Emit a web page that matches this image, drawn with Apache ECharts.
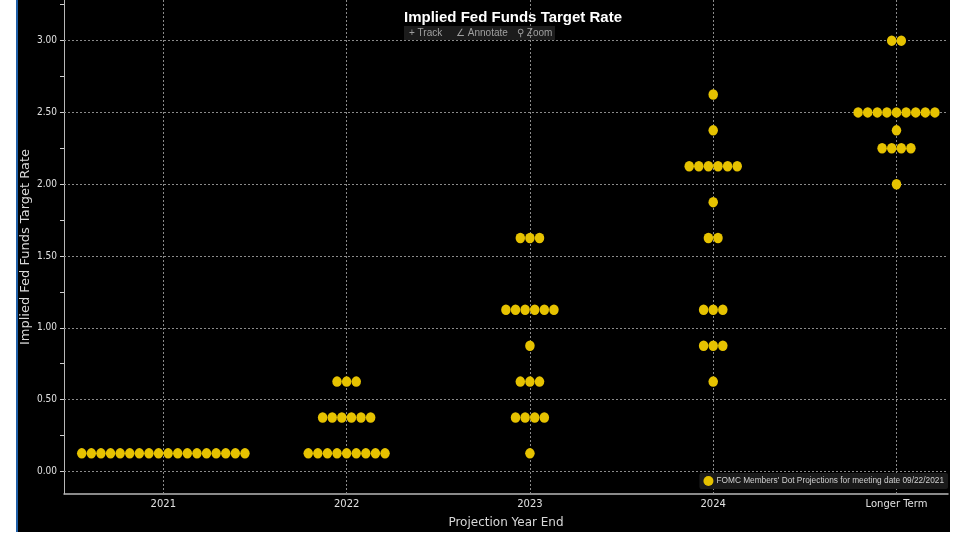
<!DOCTYPE html>
<html>
<head>
<meta charset="utf-8">
<script src="https://cdn.jsdelivr.net/npm/echarts@6/dist/echarts.min.js"></script>
<style>
  html, body { margin: 0; padding: 0; background: #ffffff; }
  #bg { position: absolute; left: 16px; top: 0; width: 934px; height: 532px; background: #000000; border-left: 2px solid #1f5fa8; box-sizing: border-box; }
  #chart { position: absolute; left: 0; top: 0; width: 955px; height: 534px; }
</style>
</head>
<body>
<div id="bg"></div>
<div id="chart"></div>
<script>
// ---- data ----
const categories = ['2021', '2022', '2023', '2024', 'Longer Term'];
// [rate, number of participants]
const dots2021 = [[0.125, 18]];
const dots2022 = [[0.125, 9], [0.375, 6], [0.625, 3]];
const dots2023 = [[0.125, 1], [0.375, 4], [0.625, 3], [0.875, 1], [1.125, 6], [1.625, 3]];
const dots2024 = [[0.625, 1], [0.875, 3], [1.125, 3], [1.625, 2], [1.875, 1], [2.125, 6], [2.375, 1], [2.625, 1]];
const dotsLonger = [[2.0, 1], [2.25, 4], [2.375, 1], [2.5, 9], [3.0, 2]];
const yTickValues = [0, 0.5, 1, 1.5, 2, 2.5, 3];
const yMinorTickValues = [0, 0.25, 0.5, 0.75, 1, 1.25, 1.5, 1.75, 2, 2.25, 2.5, 2.75, 3, 3.25];
const seriesName = "FOMC Members' Dot Projections for meeting date 09/22/2021";

// ---- build ----
const allDots = [dots2021, dots2022, dots2023, dots2024, dotsLonger];
const DOT_GAP = 9.6;
const data = [];
allDots.forEach((rows, ci) => {
  rows.forEach(([rate, count]) => {
    for (let i = 0; i < count; i++) {
      data.push({ value: [ci, rate], symbolOffset: [(i - (count - 1) / 2) * DOT_GAP, 0] });
    }
  });
});

const gridLineStyle = { color: '#8a8a8a', type: [2, 2], width: 1 };
const markLines = [];
categories.forEach((c, i) => markLines.push({ xAxis: i, lineStyle: gridLineStyle }));
yTickValues.forEach(v => markLines.push({ yAxis: v, lineStyle: gridLineStyle }));

const chart = echarts.init(document.getElementById('chart'), null, { renderer: 'canvas' });
chart.setOption({
  backgroundColor: 'transparent',
  animation: false,
  title: {
    text: 'Implied Fed Funds Target Rate',
    left: 508, top: 5, textAlign: 'center',
    textStyle: { color: '#ffffff', fontSize: 15, fontWeight: 'bold', fontFamily: 'Liberation Sans Narrow, Arial Narrow, sans-serif' }
  },
  graphic: [
    { type: 'rect', left: 404, top: 26, shape: { width: 151, height: 14 }, style: { fill: '#1c1c1c' } },
    { type: 'text', left: 409, top: 28, style: { text: '+ Track', fill: '#a0a0a0', font: '10px Liberation Sans Narrow, sans-serif' } },
    { type: 'text', left: 456, top: 28, style: { text: '∠ Annotate', fill: '#a0a0a0', font: '10px Liberation Sans Narrow, sans-serif' } },
    { type: 'text', left: 517, top: 28, style: { text: '⚲ Zoom', fill: '#a0a0a0', font: '10px Liberation Sans Narrow, sans-serif' } }
  ],
  legend: {
    data: [seriesName],
    right: 7, top: 473,
    backgroundColor: '#1a1a1a', borderRadius: 2,
    padding: [3, 4, 3, 4],
    itemWidth: 10, itemHeight: 10, itemGap: 4,
    icon: 'circle',
    itemStyle: { opacity: 1 },
    textStyle: { color: '#d0d0d0', fontSize: 8.3, fontFamily: 'Liberation Sans Narrow, sans-serif', padding: [0, 0, 0, -2] }
  },
  grid: { left: 64, right: 7, top: 0, bottom: 39, containLabel: false },
  xAxis: {
    type: 'value',
    min: -0.542, max: 4.281,
    name: 'Projection Year End',
    nameLocation: 'middle', nameGap: 23,
    nameMoveOverlap: false,
    nameTextStyle: { color: '#d8d8d8', fontSize: 12, fontFamily: 'DejaVu Sans, sans-serif' },
    axisLine: { show: true, onZero: false, lineStyle: { color: '#b8b8b8', width: 1.5 } },
    axisTick: { show: false },
    splitLine: { show: false },
    axisLabel: {
      customValues: categories.map((c, i) => i),
      formatter: v => categories[Math.round(v)],
      color: '#e0e0e0', fontSize: 10, margin: 5,
      fontFamily: 'DejaVu Sans, sans-serif'
    }
  },
  yAxis: {
    type: 'value',
    min: -0.158, max: 3.283,
    name: 'Implied Fed Funds Target Rate',
    nameLocation: 'middle', nameGap: 32,
    nameMoveOverlap: false,
    nameTextStyle: { color: '#d8d8d8', fontSize: 13, fontFamily: 'DejaVu Sans, sans-serif' },
    axisLine: { show: true, onZero: false, lineStyle: { color: '#b8b8b8', width: 1 } },
    axisTick: { show: true, customValues: yMinorTickValues, length: 4, lineStyle: { color: '#d0d0d0' } },
    splitLine: { show: false },
    axisLabel: {
      customValues: yTickValues,
      formatter: v => v.toFixed(2),
      color: '#e0e0e0', fontSize: 10, margin: 7,
      fontFamily: 'DejaVu Sans Condensed, sans-serif'
    }
  },
  series: [{
    name: seriesName,
    type: 'scatter',
    symbol: 'circle',
    symbolSize: [9.5, 10.5],
    itemStyle: { color: '#e6c200', opacity: 1 },
    data: data,
    z: 5,
    markLine: { silent: true, symbol: 'none', label: { show: false }, data: markLines, z: 1 }
  }]
});
</script>
</body>
</html>
